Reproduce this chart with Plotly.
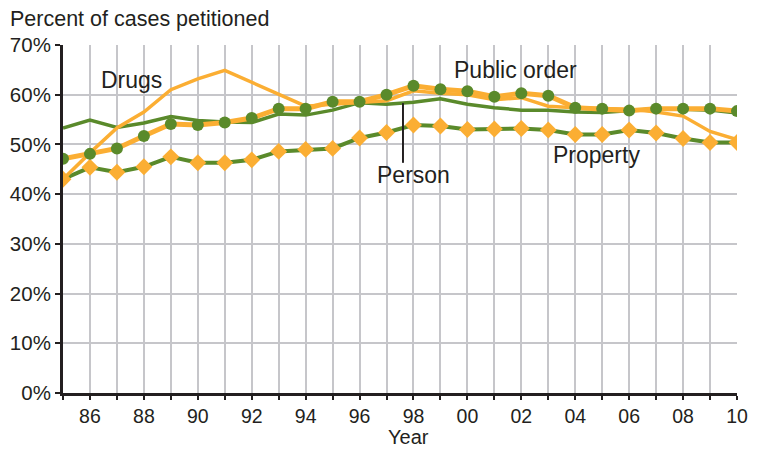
import plotly.graph_objects as go

# Share of delinquency cases petitioned, by most serious offense, 1985-2010
years = list(range(1985, 2011))

drugs = [43.0, 48.3, 53.3, 56.5, 61.0, 63.2, 64.9, 62.5, 60.1, 57.7, 58.1, 58.4, 58.8,
         60.8, 60.3, 60.0, 59.0, 59.4, 57.7, 57.4, 57.2, 57.1, 56.5, 55.7, 52.6, 51.0]
public_order = [47.1, 48.1, 49.2, 51.7, 54.1, 53.9, 54.4, 55.3, 57.2, 57.2, 58.6, 58.6, 60.0,
                61.8, 61.1, 60.7, 59.6, 60.3, 59.8, 57.4, 57.2, 56.8, 57.2, 57.2, 57.2, 56.7]
person = [53.3, 54.9, 53.4, 54.3, 55.6, 54.8, 54.5, 54.4, 56.1, 55.9, 56.9, 58.4, 58.1,
          58.5, 59.2, 58.1, 57.4, 56.9, 56.9, 56.5, 56.4, 56.8, 57.2, 57.1, 56.9, 56.3]
property_ = [43.0, 45.4, 44.4, 45.5, 47.5, 46.3, 46.3, 46.9, 48.6, 49.0, 49.2, 51.3, 52.4,
             53.9, 53.7, 53.0, 53.1, 53.2, 52.9, 52.0, 52.0, 52.9, 52.3, 51.2, 50.4, 50.4]

tick_years = years
tick_text = ["" if (y % 2 == 1) else f"{y % 100:02d}" for y in years]

ORANGE = "#FBAE33"
GREEN = "#5A8A2B"
FONT = "Liberation Sans, Arial, sans-serif"
TEXT = "#231f20"

fig = go.Figure()

fig.add_trace(go.Scatter(x=years, y=person, mode="lines", name="Person",
                         line=dict(color=GREEN, width=3.5)))
fig.add_trace(go.Scatter(x=years, y=property_, mode="lines+markers", name="Property",
                         line=dict(color=GREEN, width=4),
                         marker=dict(symbol="diamond", size=13, color=ORANGE)))
fig.add_trace(go.Scatter(x=years, y=drugs, mode="lines", name="Drugs",
                         line=dict(color=ORANGE, width=3.5)))
fig.add_trace(go.Scatter(x=years, y=public_order, mode="lines+markers", name="Public order",
                         line=dict(color=ORANGE, width=5),
                         marker=dict(symbol="circle", size=12, color=GREEN)))

labels = [
    ("Drugs", 1987.54, 63.0),
    ("Public order", 2001.8, 65.0),
    ("Person", 1998.0, 43.9),
    ("Property", 2004.8, 47.9),
]
for text, lx, ly in labels:
    fig.add_annotation(x=lx, y=ly, xref="x", yref="y", text=text, showarrow=False,
                       font=dict(family=FONT, size=23, color=TEXT),
                       xanchor="center", yanchor="middle")

# leader line from the Person label up to its series
fig.add_shape(type="line", xref="x", yref="y", x0=1997.61, x1=1997.61, y0=58.3, y1=46.3,
              line=dict(color=TEXT, width=2))

# x-axis title
fig.add_annotation(x=0.512, y=-0.162, xref="paper", yref="paper", text="Year",
                   showarrow=False, xanchor="center", yanchor="bottom", borderpad=0,
                   font=dict(family=FONT, size=20, color=TEXT))

fig.update_layout(
    width=757, height=450,
    margin=dict(l=63, r=20, t=45, b=57),
    paper_bgcolor="white", plot_bgcolor="white",
    showlegend=False,
    font=dict(family=FONT, size=20, color=TEXT),
    title=dict(text="Percent of cases petitioned", x=10 / 757, xref="container",
               xanchor="left", y=1 - 18 / 450, yref="container", yanchor="middle",
               font=dict(family=FONT, size=21.5, color=TEXT)),
)

fig.update_xaxes(
    range=[1985, 2010], tickmode="array", tickvals=tick_years, ticktext=tick_text,
    showgrid=True, gridcolor="#c6c6ca", gridwidth=1.6,
    showline=True, linecolor="#231f20", linewidth=3,
    ticks="outside", ticklen=4, tickwidth=1.5, tickcolor="#231f20",
    tickfont=dict(family=FONT, size=19.5, color=TEXT),
    zeroline=False, automargin=False,
)
fig.update_yaxes(
    range=[0, 70], dtick=10, ticksuffix="%",
    showgrid=True, gridcolor="#c6c6ca", gridwidth=1.6,
    showline=True, linecolor="#231f20", linewidth=3,
    ticks="outside", ticklen=5, tickwidth=1.5, tickcolor="#231f20",
    tickfont=dict(family=FONT, size=20.5, color=TEXT),
    zeroline=False, automargin=False,
)

fig.write_html("out.html")
